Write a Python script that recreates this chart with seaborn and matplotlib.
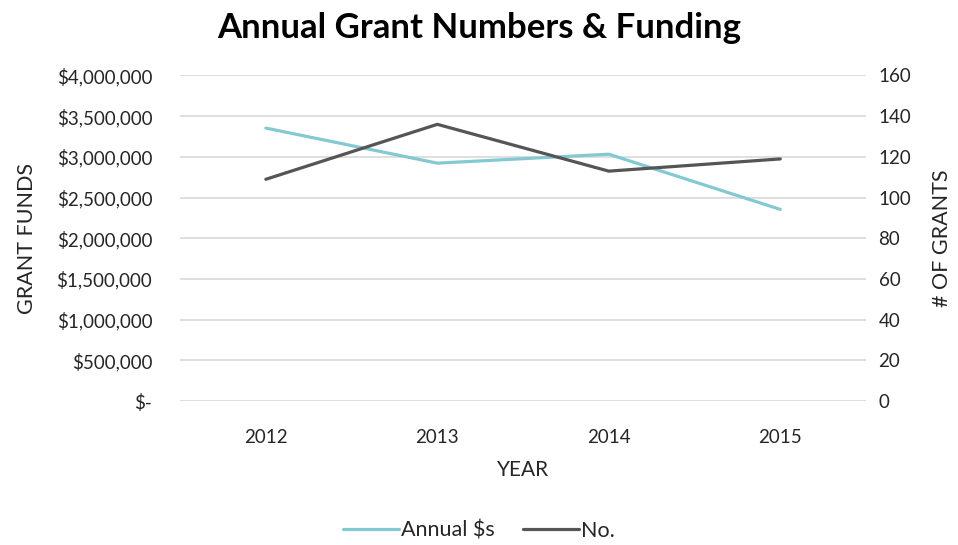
import matplotlib
matplotlib.use("Agg")
import matplotlib.pyplot as plt
import seaborn as sns
import pandas as pd
from matplotlib.ticker import FuncFormatter
from matplotlib.lines import Line2D

years = ["2012", "2013", "2014", "2015"]
annual_funds = [3354000, 2923000, 3033000, 2355000]
grant_counts = [109, 136, 113, 119]
left_ticks = [0, 500000, 1000000, 1500000, 2000000, 2500000, 3000000, 3500000, 4000000]
right_ticks = [0, 20, 40, 60, 80, 100, 120, 140, 160]

sns.set_theme(style="white")
plt.rcParams['font.family'] = ['Lato', 'DejaVu Sans']

teal = "#84C9D1"
dark = "#555555"
grid_c = "#D9D9D9"
txt = "#262626"

df = pd.DataFrame({"Year": years, "Funds": annual_funds, "Count": grant_counts})

fig = plt.figure(figsize=(9.58, 5.45), dpi=100)
ax = fig.add_axes([0.188, 0.264, 0.716, 0.5975])
ax2 = ax.twinx()

sns.lineplot(data=df, x="Year", y="Funds", ax=ax, color=teal, linewidth=2.3, sort=False)
sns.lineplot(data=df, x="Year", y="Count", ax=ax2, color=dark, linewidth=2.3, sort=False)

ax.set_xlim(-0.5, 3.5)
ax.set_ylim(0, 4000000)
ax2.set_ylim(0, 160)
ax.set_yticks(left_ticks)
ax2.set_yticks(right_ticks)

def money(v, pos):
    if v == 0:
        return "$-"
    return "${:,.0f}".format(v)
ax.yaxis.set_major_formatter(FuncFormatter(money))

for a in (ax, ax2):
    for s in a.spines.values():
        s.set_visible(False)
    a.tick_params(axis="both", length=0, labelsize=13.5, colors=txt)
ax.tick_params(axis="y", pad=20)
ax2.tick_params(axis="y", pad=9)
ax.tick_params(axis="x", pad=20)
ax.yaxis.grid(True, color=grid_c, linewidth=1.2)
ax.set_axisbelow(True)
ax2.grid(False)

ax.set_xlabel("YEAR", fontsize=15, color=txt, labelpad=10)
ax.set_ylabel("GRANT FUNDS", fontsize=15.5, color=txt, labelpad=14)
ax2.set_ylabel("# OF GRANTS", fontsize=15.5, color=txt, labelpad=15)

fig.suptitle("Annual Grant Numbers & Funding", fontsize=25, fontweight="bold", color="#000000", y=0.978)

handles = [Line2D([0], [0], color=teal, linewidth=2.3), Line2D([0], [0], color=dark, linewidth=2.3)]
fig.legend(handles, ["Annual $s", "No."], loc="lower center", bbox_to_anchor=(0.5, -0.028), ncol=2,
           frameon=False, fontsize=15.5, handlelength=2.6, handletextpad=0.1, columnspacing=1.3,
           labelcolor=txt)

fig.savefig("out.png", dpi=100)
